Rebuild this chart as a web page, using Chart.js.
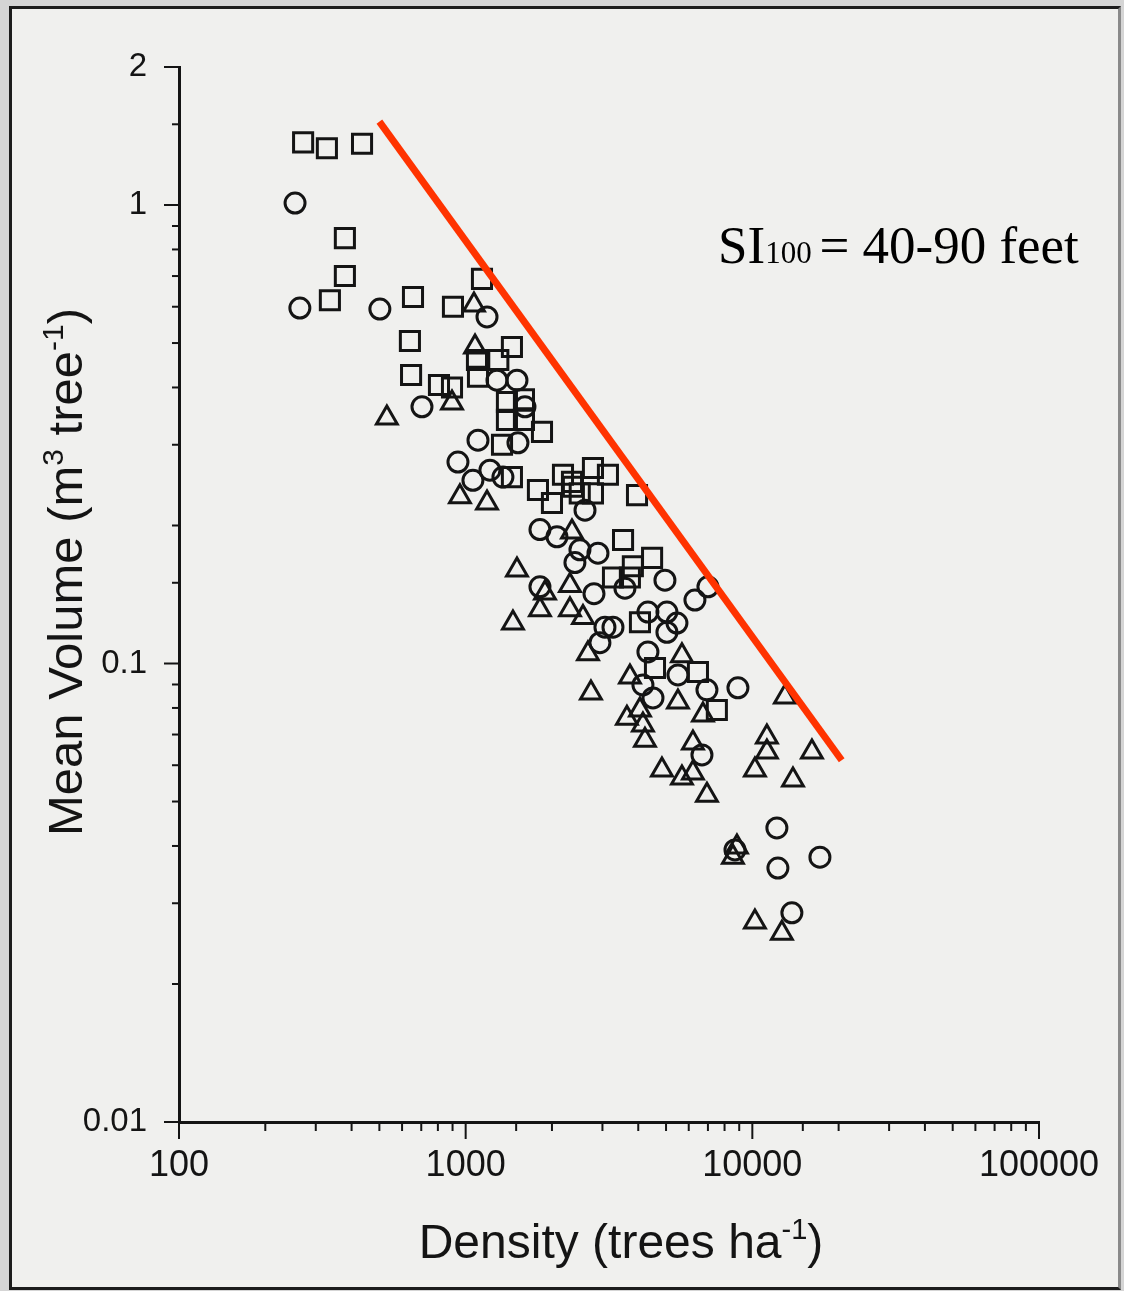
<!DOCTYPE html>
<html lang="en">
<head>
<meta charset="utf-8">
<title>Mean volume vs density</title>
<script src="https://cdn.jsdelivr.net/npm/chart.js@4.4.1/dist/chart.umd.min.js"></script>
<style>
  html, body { margin: 0; padding: 0; background: #d5d5d5; }
  #paper {
    position: absolute; left: 9px; top: 6px;
    width: 1106px; height: 1278px;
    background: #f0f0ee;
    border: 3px solid #1c1c1c;
    border-right-color: #8a8a8a;
  }
  #chart { position: absolute; left: 0; top: 0; }
</style>
</head>
<body>
<div id="paper"></div>
<canvas id="chart" width="1124" height="1291"></canvas>

<script>
// density (trees/ha), mean volume (m3/tree)
const squares = [
  [271,1.37],[328,1.33],[435,1.36],[379,0.847],[379,0.70],[336,0.62],[655,0.63],[903,0.60],
  [1140,0.69],[639,0.505],[645,0.426],[807,0.405],[896,0.40],[1450,0.49],[1300,0.459],
  [1095,0.459],[1104,0.422],[1393,0.372],[1597,0.377],[1393,0.34],[1597,0.34],[1846,0.32],
  [1339,0.30],[1450,0.255],[1787,0.239],[2185,0.258],[2349,0.249],[2780,0.267],[3135,0.258],
  [3960,0.233],[2000,0.224],[2500,0.235],[2780,0.235],[2367,0.243],[3540,0.186],[4470,0.17],
  [3830,0.163],[3265,0.154],[3740,0.154],[4055,0.123],[4575,0.0978],[6460,0.0958],[7520,0.0792]
];
const circles = [
  [254,1.01],[264,0.596],[502,0.593],[1187,0.57],[704,0.363],[1286,0.415],[1510,0.415],
  [1610,0.363],[1104,0.307],[1522,0.303],[940,0.275],[1060,0.251],[1215,0.264],[1349,0.255],
  [2608,0.216],[1816,0.196],[2082,0.189],[2894,0.174],[2405,0.166],[2504,0.177],[4956,0.152],
  [7000,0.147],[6306,0.1375],[3594,0.146],[2803,0.142],[1816,0.147],[4323,0.1295],[5036,0.1295],
  [3061,0.12],[3265,0.12],[5036,0.117],[5458,0.1225],[2940,0.111],[4323,0.106],[4153,0.0898],
  [4502,0.0841],[5502,0.0944],[6945,0.0876],[8908,0.0885],[6672,0.0632],[12180,0.0438],
  [17210,0.0378],[12280,0.0358],[13740,0.0286],[8700,0.0392]
];
const triangles = [
  [531,0.343],[1069,0.605],[1078,0.49],[896,0.37],[955,0.231],[1187,0.224],[2349,0.1935],
  [1510,0.16],[2311,0.148],[1891,0.1425],[1816,0.131],[2311,0.131],[2566,0.126],[1462,0.1225],
  [2671,0.105],[5681,0.104],[3742,0.0935],[2735,0.0862],[5502,0.0824],[4055,0.0792],[3652,0.076],
  [6725,0.0772],[4153,0.0734],[4221,0.068],[6206,0.0671],[4838,0.0586],[5681,0.0563],[6206,0.0577],
  [6945,0.0516],[12990,0.0845],[11240,0.0691],[11240,0.0641],[10210,0.0586],[16140,0.0641],
  [13860,0.0557],[8556,0.0378],[8836,0.0398],[10210,0.0273],[12680,0.0258]
];
// upper boundary line
const boundary = [[500,1.52],[20500,0.0615]];

const xTickLabels = [100, 1000, 10000, 100000];
const yTickLabels = [0.01, 0.1, 1, 2];

const SANS = '"Liberation Sans", Arial, sans-serif';
const SERIF = '"Liberation Serif", "Times New Roman", serif';
const INK = '#141414';

const toXY = arr => arr.map(([x, y]) => ({x: x, y: y}));
const findLabel = (list, v) => list.find(l => Math.abs(Math.log10(v / l)) < 1e-6);

// draws a row of text pieces (for super/subscripts), centred or left aligned
function drawRuns(ctx, runs, x, y, align) {
  let total = 0;
  runs.forEach(r => { ctx.font = r.size + 'px ' + r.family; r.w = ctx.measureText(r.text).width; total += r.w; });
  let cx = align === 'center' ? x - total / 2 : x;
  ctx.textBaseline = 'alphabetic';
  ctx.textAlign = 'left';
  runs.forEach(r => {
    ctx.font = r.size + 'px ' + r.family;
    ctx.fillText(r.text, cx, y - (r.rise || 0));
    cx += r.w;
  });
}

// tick marks, axis titles and the site index note
const decorations = {
  id: 'decorations',
  afterDraw(chart) {
    const {ctx, scales: {x, y}} = chart;
    ctx.save();
    ctx.strokeStyle = INK;
    ctx.lineWidth = 2;
    x.ticks.forEach(t => {
      const px = x.getPixelForValue(t.value);
      const len = findLabel(xTickLabels, t.value) !== undefined ? 17 : 9;
      ctx.beginPath();
      ctx.moveTo(px, y.bottom);
      ctx.lineTo(px, y.bottom + len);
      ctx.stroke();
    });
    y.ticks.forEach(t => {
      const py = y.getPixelForValue(t.value);
      const len = findLabel(yTickLabels, t.value) !== undefined ? 15 : 7;
      ctx.beginPath();
      ctx.moveTo(x.left - len, py);
      ctx.lineTo(x.left, py);
      ctx.stroke();
    });

    ctx.fillStyle = INK;
    // x title
    drawRuns(ctx, [
      {text: 'Density (trees ha', size: 48, family: SANS},
      {text: '-1', size: 29, family: SANS, rise: 19},
      {text: ')', size: 48, family: SANS}
    ], 621, 1258, 'center');

    // y title
    ctx.save();
    ctx.translate(82, 572);
    ctx.rotate(-Math.PI / 2);
    drawRuns(ctx, [
      {text: 'Mean Volume (m', size: 49, family: SANS},
      {text: '3', size: 30, family: SANS, rise: 19},
      {text: ' tree', size: 49, family: SANS},
      {text: '-1', size: 30, family: SANS, rise: 19},
      {text: ')', size: 49, family: SANS}
    ], 0, 0, 'center');
    ctx.restore();

    // site index note
    ctx.fillStyle = '#000';
    drawRuns(ctx, [
      {text: 'SI', size: 53, family: SERIF},
      {text: '100 ', size: 31, family: SERIF},
      {text: '= 40-90 feet', size: 53, family: SERIF}
    ], 718, 263, 'left');
    ctx.restore();
  }
};

const markerBase = {
  borderColor: INK,
  backgroundColor: 'rgba(0,0,0,0)',
  borderWidth: 3
};

new Chart(document.getElementById('chart'), {
  type: 'scatter',
  data: {
    datasets: [
      {
        label: 'boundary',
        data: toXY(boundary),
        showLine: true,
        borderColor: 'rgb(255,51,0)',
        borderWidth: 7,
        pointRadius: 0,
        order: 0
      },
      Object.assign({label: 'squares', data: toXY(squares), pointStyle: 'rect', pointRadius: 13.5, order: 1}, markerBase),
      Object.assign({label: 'circles', data: toXY(circles), pointStyle: 'circle', pointRadius: 10, order: 2}, markerBase),
      Object.assign({label: 'triangles', data: toXY(triangles), pointStyle: 'triangle', pointRadius: 12, order: 3}, markerBase)
    ]
  },
  options: {
    responsive: false,
    animation: false,
    events: [],
    layout: { padding: {left: 0, top: 67, right: 85, bottom: 0} },
    plugins: {
      legend: {display: false},
      tooltip: {enabled: false}
    },
    scales: {
      x: {
        type: 'logarithmic',
        position: 'bottom',
        min: 100,
        max: 100000,
        grid: {display: false},
        border: {display: true, color: INK, width: 3},
        ticks: {
          autoSkip: false,
          maxRotation: 0,
          padding: 14,
          color: INK,
          font: {family: SANS, size: 36},
          callback: v => { const l = findLabel(xTickLabels, v); return l === undefined ? '' : String(l); }
        },
        afterFit: s => { s.height = 169; }
      },
      y: {
        type: 'logarithmic',
        position: 'left',
        min: 0.01,
        max: 2,
        grid: {display: false},
        border: {display: true, color: INK, width: 3},
        ticks: {
          autoSkip: false,
          padding: 24,
          color: INK,
          font: {family: SANS, size: 33},
          callback: v => { const l = findLabel(yTickLabels, v); return l === undefined ? '' : String(l); }
        },
        afterFit: s => { s.width = 179; }
      }
    }
  },
  plugins: [decorations]
});
</script>
</body>
</html>
